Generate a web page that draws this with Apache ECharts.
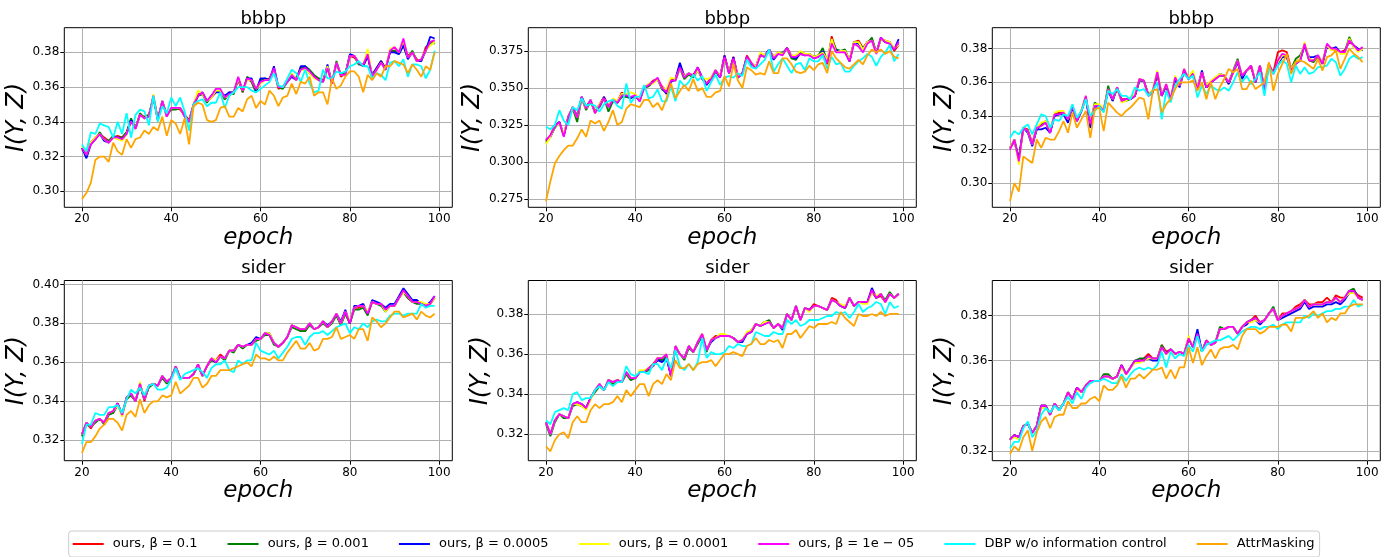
<!DOCTYPE html>
<html>
<head>
<meta charset="utf-8">
<script src="https://cdn.jsdelivr.net/npm/echarts@6/dist/echarts.min.js"></script>
<style>
html,body{margin:0;padding:0;background:#fff;}
#chart{width:1392px;height:557px;}
</style>
</head>
<body>
<div id="chart"></div>
<script>
// ---------------- data ----------------
const epochs = [20,21,22,23,24,25,26,27,28,29,30,31,32,33,34,35,36,37,38,39,
40,41,42,43,44,45,46,47,48,49,50,51,52,53,54,55,56,57,58,59,
60,61,62,63,64,65,66,67,68,69,70,71,72,73,74,75,76,77,78,79,
80,81,82,83,84,85,86,87,88,89,90,91,92,93,94,95,96,97,98,99];

const seriesNames = ['ours, β = 0.1','ours, β = 0.001','ours, β = 0.0005','ours, β = 0.0001','ours, β = 1e − 05','DBP w/o information control','AttrMasking'];
const panelTitles = ['bbbp','bbbp','bbbp','sider','sider','sider'];
const xTicks = [20,40,60,80,100];
const yTicks = [
  [0.30,0.32,0.34,0.36,0.38],
  [0.275,0.300,0.325,0.350,0.375],
  [0.30,0.32,0.34,0.36,0.38],
  [0.32,0.34,0.36,0.38,0.40],
  [0.32,0.34,0.36,0.38],
  [0.32,0.34,0.36,0.38]
];
const yDecimals = [2,3,2,2,2,2];
const yRange = [[0.2908,0.3942],[0.2694,0.3907],[0.2857,0.3925],[0.3095,0.4020],[0.3068,0.3967],[0.3156,0.3956]];

// ---- panel 1 (bbbp) ----
const p1_r = [0.324,0.322,0.328,0.331,0.333,0.331,0.329,0.331,0.332,0.331,
0.334,0.341,0.337,0.344,0.343,0.344,0.354,0.342,0.351,0.344,
0.347,0.348,0.347,0.344,0.341,0.350,0.356,0.356,0.352,0.354,
0.357,0.358,0.353,0.357,0.357,0.364,0.357,0.365,0.363,0.357,
0.364,0.364,0.365,0.370,0.359,0.360,0.364,0.366,0.364,0.371,
0.371,0.368,0.366,0.365,0.364,0.372,0.363,0.374,0.366,0.368,
0.378,0.377,0.374,0.372,0.378,0.367,0.371,0.375,0.371,0.380,
0.381,0.380,0.385,0.378,0.380,0.376,0.375,0.383,0.385,0.386];
const p1_g = [0.325,0.321,0.328,0.330,0.334,0.330,0.329,0.332,0.331,0.331,
0.334,0.342,0.336,0.345,0.342,0.344,0.354,0.341,0.352,0.344,
0.347,0.347,0.348,0.344,0.340,0.349,0.355,0.356,0.351,0.355,
0.358,0.357,0.353,0.356,0.356,0.365,0.357,0.366,0.363,0.357,
0.364,0.365,0.364,0.370,0.360,0.359,0.363,0.367,0.365,0.371,
0.372,0.370,0.367,0.365,0.363,0.371,0.362,0.375,0.367,0.368,
0.378,0.378,0.373,0.373,0.378,0.366,0.370,0.375,0.370,0.381,
0.381,0.379,0.384,0.377,0.381,0.375,0.376,0.381,0.386,0.385];
const p1_b = [0.325,0.319,0.327,0.330,0.333,0.329,0.328,0.331,0.331,0.330,
0.333,0.341,0.336,0.344,0.342,0.343,0.355,0.341,0.352,0.343,
0.348,0.348,0.348,0.343,0.340,0.350,0.355,0.357,0.352,0.355,
0.357,0.357,0.355,0.357,0.357,0.365,0.358,0.365,0.365,0.358,
0.365,0.365,0.364,0.372,0.360,0.360,0.363,0.366,0.364,0.372,
0.372,0.369,0.366,0.364,0.363,0.373,0.362,0.374,0.367,0.367,
0.379,0.378,0.374,0.372,0.378,0.367,0.371,0.375,0.370,0.380,
0.380,0.379,0.384,0.376,0.380,0.375,0.375,0.381,0.389,0.388];
const p1_y = [0.326,0.321,0.328,0.331,0.333,0.330,0.328,0.331,0.330,0.329,
0.333,0.340,0.336,0.344,0.342,0.343,0.356,0.341,0.352,0.343,
0.348,0.348,0.348,0.343,0.340,0.350,0.358,0.356,0.352,0.354,
0.358,0.358,0.354,0.355,0.357,0.365,0.358,0.364,0.364,0.359,
0.362,0.364,0.364,0.370,0.360,0.360,0.363,0.368,0.364,0.370,
0.370,0.368,0.365,0.364,0.363,0.372,0.362,0.374,0.367,0.367,
0.378,0.378,0.374,0.373,0.382,0.366,0.370,0.374,0.370,0.382,
0.383,0.380,0.387,0.377,0.380,0.375,0.376,0.381,0.384,0.386];
const p1_m = [0.325,0.321,0.327,0.330,0.333,0.330,0.328,0.331,0.331,0.330,
0.333,0.340,0.336,0.344,0.342,0.343,0.355,0.341,0.352,0.343,
0.348,0.348,0.348,0.343,0.340,0.350,0.355,0.357,0.352,0.355,
0.359,0.359,0.354,0.356,0.357,0.366,0.358,0.365,0.364,0.359,
0.363,0.364,0.364,0.371,0.360,0.360,0.363,0.367,0.364,0.370,
0.371,0.369,0.366,0.364,0.363,0.371,0.362,0.374,0.367,0.367,
0.378,0.378,0.374,0.373,0.379,0.366,0.370,0.374,0.370,0.381,
0.383,0.380,0.388,0.377,0.380,0.375,0.376,0.381,0.386,0.387];
const p1_c = [0.327,0.323,0.334,0.333,0.339,0.338,0.337,0.331,0.340,0.333,
0.345,0.331,0.344,0.347,0.346,0.338,0.355,0.340,0.349,0.345,
0.354,0.349,0.354,0.346,0.335,0.350,0.352,0.353,0.349,0.351,
0.351,0.357,0.348,0.355,0.357,0.360,0.360,0.360,0.358,0.357,
0.359,0.361,0.363,0.368,0.361,0.360,0.365,0.370,0.368,0.363,
0.370,0.362,0.357,0.358,0.370,0.365,0.365,0.369,0.368,0.369,
0.372,0.373,0.375,0.372,0.372,0.365,0.368,0.367,0.364,0.374,
0.375,0.372,0.376,0.366,0.373,0.373,0.372,0.365,0.370,0.381];
const p1_o = [0.2955,0.299,0.305,0.318,0.320,0.320,0.317,0.328,0.323,0.321,
0.330,0.325,0.330,0.331,0.335,0.333,0.337,0.335,0.343,0.332,
0.341,0.339,0.333,0.342,0.327,0.349,0.351,0.350,0.341,0.340,
0.341,0.348,0.349,0.343,0.343,0.348,0.346,0.353,0.355,0.348,
0.352,0.350,0.358,0.355,0.349,0.354,0.355,0.362,0.356,0.363,
0.362,0.366,0.355,0.357,0.357,0.350,0.365,0.359,0.361,0.366,
0.369,0.369,0.366,0.357,0.367,0.364,0.368,0.366,0.372,0.372,
0.375,0.374,0.373,0.368,0.373,0.370,0.366,0.372,0.370,0.380];

// ---- panel 2 (bbbp) ----
const p2_r = [0.314,0.318,0.325,0.327,0.318,0.331,0.337,0.331,0.344,0.337,
0.341,0.334,0.339,0.344,0.338,0.342,0.341,0.347,0.344,0.344,
0.344,0.342,0.351,0.352,0.355,0.356,0.351,0.348,0.356,0.356,
0.365,0.358,0.359,0.359,0.363,0.357,0.353,0.357,0.362,0.358,
0.372,0.361,0.371,0.358,0.360,0.372,0.367,0.364,0.373,0.372,
0.376,0.371,0.374,0.373,0.377,0.372,0.371,0.374,0.373,0.372,
0.371,0.372,0.374,0.366,0.385,0.375,0.375,0.375,0.369,0.381,
0.382,0.377,0.381,0.383,0.374,0.383,0.382,0.381,0.375,0.379];
const p2_g = [0.313,0.317,0.323,0.327,0.318,0.330,0.336,0.327,0.343,0.335,
0.341,0.334,0.337,0.343,0.334,0.341,0.340,0.344,0.344,0.343,
0.345,0.342,0.350,0.351,0.354,0.356,0.349,0.347,0.355,0.355,
0.363,0.356,0.359,0.357,0.362,0.356,0.353,0.356,0.361,0.357,
0.370,0.360,0.369,0.357,0.360,0.370,0.366,0.364,0.372,0.371,
0.375,0.371,0.373,0.374,0.376,0.370,0.369,0.374,0.373,0.373,
0.371,0.372,0.377,0.368,0.383,0.376,0.375,0.376,0.368,0.381,
0.381,0.377,0.380,0.384,0.374,0.383,0.381,0.381,0.376,0.380];
const p2_b = [0.315,0.317,0.324,0.327,0.318,0.330,0.337,0.331,0.344,0.337,
0.342,0.333,0.338,0.344,0.337,0.342,0.340,0.345,0.345,0.343,
0.345,0.341,0.351,0.352,0.354,0.356,0.350,0.346,0.354,0.356,
0.367,0.358,0.360,0.358,0.364,0.357,0.352,0.356,0.362,0.357,
0.372,0.360,0.371,0.357,0.360,0.371,0.366,0.364,0.373,0.372,
0.376,0.369,0.373,0.373,0.377,0.371,0.370,0.373,0.372,0.373,
0.370,0.371,0.375,0.367,0.381,0.375,0.375,0.374,0.368,0.381,
0.380,0.376,0.381,0.382,0.374,0.384,0.381,0.380,0.376,0.383];
const p2_y = [0.312,0.317,0.324,0.326,0.319,0.330,0.337,0.330,0.343,0.336,
0.342,0.333,0.339,0.343,0.337,0.343,0.341,0.346,0.346,0.347,
0.346,0.342,0.350,0.353,0.353,0.356,0.350,0.349,0.357,0.356,
0.363,0.358,0.360,0.358,0.362,0.357,0.356,0.357,0.362,0.358,
0.370,0.361,0.369,0.358,0.360,0.370,0.367,0.364,0.374,0.372,
0.375,0.371,0.374,0.373,0.376,0.372,0.372,0.375,0.373,0.373,
0.371,0.372,0.374,0.369,0.383,0.374,0.375,0.375,0.369,0.381,
0.381,0.376,0.381,0.382,0.374,0.383,0.382,0.381,0.377,0.379];
const p2_m = [0.315,0.318,0.324,0.327,0.317,0.330,0.337,0.330,0.344,0.336,
0.342,0.333,0.338,0.343,0.337,0.342,0.340,0.345,0.345,0.344,
0.345,0.341,0.350,0.352,0.354,0.357,0.350,0.347,0.355,0.355,
0.364,0.357,0.360,0.358,0.364,0.356,0.353,0.356,0.362,0.357,
0.371,0.360,0.370,0.357,0.360,0.371,0.367,0.363,0.372,0.371,
0.376,0.370,0.373,0.372,0.377,0.371,0.371,0.373,0.372,0.372,
0.370,0.371,0.373,0.367,0.380,0.374,0.374,0.374,0.368,0.380,
0.378,0.374,0.380,0.382,0.373,0.384,0.381,0.380,0.376,0.381];
const p2_c = [0.324,0.322,0.325,0.335,0.328,0.325,0.337,0.335,0.343,0.338,
0.339,0.338,0.334,0.339,0.341,0.342,0.338,0.336,0.353,0.340,
0.344,0.344,0.352,0.343,0.344,0.349,0.341,0.341,0.351,0.341,
0.355,0.351,0.354,0.359,0.355,0.358,0.348,0.354,0.359,0.352,
0.357,0.358,0.357,0.360,0.358,0.369,0.364,0.363,0.366,0.369,
0.376,0.361,0.366,0.370,0.365,0.360,0.366,0.367,0.362,0.370,
0.368,0.368,0.372,0.363,0.371,0.366,0.367,0.361,0.361,0.365,
0.368,0.370,0.373,0.371,0.365,0.371,0.374,0.379,0.368,0.373];
const p2_o = [0.2735,0.287,0.299,0.304,0.308,0.311,0.311,0.316,0.322,0.317,
0.328,0.326,0.328,0.321,0.327,0.335,0.325,0.327,0.336,0.339,
0.338,0.337,0.342,0.342,0.337,0.340,0.335,0.343,0.353,0.343,
0.348,0.352,0.348,0.356,0.348,0.350,0.344,0.344,0.347,0.348,
0.358,0.351,0.366,0.355,0.350,0.364,0.362,0.359,0.360,0.359,
0.368,0.360,0.360,0.370,0.370,0.366,0.361,0.360,0.361,0.365,
0.362,0.366,0.367,0.360,0.375,0.370,0.367,0.364,0.363,0.366,
0.369,0.366,0.372,0.376,0.374,0.376,0.373,0.375,0.371,0.370];

// ---- panel 3 (bbbp) ----
const p3_r = [0.321,0.325,0.314,0.333,0.332,0.324,0.333,0.335,0.337,0.331,
0.341,0.342,0.342,0.339,0.345,0.338,0.343,0.351,0.336,0.346,
0.345,0.344,0.356,0.350,0.356,0.350,0.350,0.351,0.352,0.362,
0.361,0.353,0.355,0.365,0.353,0.358,0.350,0.362,0.358,0.367,
0.363,0.365,0.357,0.366,0.357,0.360,0.362,0.364,0.364,0.359,
0.366,0.372,0.364,0.367,0.369,0.361,0.369,0.356,0.370,0.366,
0.378,0.379,0.378,0.368,0.372,0.374,0.382,0.374,0.373,0.375,
0.372,0.382,0.380,0.379,0.378,0.379,0.384,0.382,0.379,0.380];
const p3_g = [0.321,0.326,0.315,0.333,0.331,0.323,0.332,0.335,0.336,0.330,
0.341,0.341,0.342,0.337,0.345,0.337,0.343,0.351,0.336,0.348,
0.346,0.343,0.358,0.349,0.357,0.349,0.349,0.350,0.352,0.361,
0.361,0.352,0.355,0.365,0.352,0.358,0.350,0.362,0.358,0.367,
0.362,0.365,0.357,0.366,0.357,0.360,0.363,0.364,0.364,0.360,
0.367,0.374,0.363,0.367,0.370,0.360,0.370,0.356,0.370,0.366,
0.372,0.376,0.375,0.368,0.374,0.376,0.382,0.373,0.372,0.376,
0.371,0.382,0.380,0.380,0.378,0.378,0.387,0.381,0.379,0.380];
const p3_b = [0.321,0.325,0.314,0.333,0.330,0.322,0.332,0.332,0.333,0.330,
0.340,0.341,0.341,0.336,0.345,0.337,0.343,0.351,0.333,0.346,
0.345,0.343,0.355,0.349,0.357,0.349,0.350,0.350,0.352,0.361,
0.361,0.352,0.354,0.366,0.352,0.358,0.349,0.362,0.357,0.367,
0.362,0.365,0.356,0.367,0.357,0.360,0.362,0.365,0.364,0.359,
0.366,0.372,0.362,0.367,0.370,0.360,0.370,0.355,0.371,0.365,
0.371,0.375,0.375,0.367,0.371,0.373,0.382,0.375,0.375,0.376,
0.371,0.381,0.380,0.381,0.378,0.378,0.385,0.382,0.380,0.379];
const p3_y = [0.321,0.326,0.311,0.333,0.331,0.323,0.333,0.336,0.337,0.331,
0.342,0.343,0.343,0.338,0.346,0.338,0.344,0.352,0.336,0.347,
0.347,0.344,0.356,0.350,0.357,0.348,0.349,0.351,0.353,0.362,
0.361,0.352,0.356,0.367,0.353,0.359,0.350,0.364,0.358,0.368,
0.363,0.367,0.357,0.366,0.358,0.361,0.363,0.365,0.364,0.360,
0.366,0.373,0.364,0.367,0.370,0.361,0.370,0.356,0.371,0.365,
0.372,0.376,0.376,0.368,0.372,0.374,0.384,0.374,0.373,0.376,
0.372,0.382,0.379,0.380,0.377,0.377,0.386,0.381,0.378,0.380];
const p3_m = [0.320,0.326,0.313,0.333,0.331,0.323,0.333,0.334,0.336,0.330,
0.341,0.341,0.342,0.338,0.346,0.337,0.343,0.352,0.335,0.346,
0.346,0.343,0.356,0.350,0.357,0.349,0.350,0.350,0.352,0.362,
0.361,0.352,0.355,0.366,0.352,0.359,0.350,0.363,0.358,0.368,
0.362,0.365,0.356,0.366,0.357,0.360,0.362,0.364,0.364,0.360,
0.366,0.373,0.364,0.367,0.370,0.360,0.370,0.355,0.371,0.365,
0.373,0.377,0.376,0.367,0.371,0.373,0.383,0.373,0.373,0.376,
0.371,0.383,0.380,0.380,0.378,0.378,0.385,0.382,0.379,0.381];
const p3_c = [0.327,0.331,0.329,0.333,0.335,0.329,0.335,0.341,0.340,0.333,
0.338,0.337,0.341,0.340,0.347,0.339,0.343,0.350,0.340,0.343,
0.346,0.342,0.355,0.353,0.356,0.352,0.352,0.350,0.357,0.355,
0.356,0.352,0.355,0.360,0.338,0.355,0.348,0.358,0.362,0.365,
0.362,0.364,0.351,0.358,0.353,0.358,0.356,0.355,0.357,0.355,
0.360,0.366,0.360,0.364,0.359,0.362,0.366,0.352,0.369,0.365,
0.370,0.373,0.371,0.360,0.370,0.365,0.369,0.365,0.366,0.369,
0.369,0.370,0.374,0.372,0.364,0.368,0.374,0.376,0.374,0.375];
const p3_o = [0.2895,0.300,0.295,0.316,0.314,0.312,0.326,0.321,0.327,0.326,
0.326,0.331,0.337,0.330,0.342,0.333,0.338,0.343,0.327,0.344,
0.345,0.331,0.348,0.345,0.342,0.340,0.343,0.345,0.348,0.351,
0.350,0.338,0.355,0.356,0.342,0.347,0.350,0.356,0.360,0.360,
0.360,0.361,0.355,0.360,0.350,0.360,0.350,0.357,0.362,0.368,
0.366,0.368,0.356,0.356,0.361,0.356,0.358,0.360,0.372,0.355,
0.365,0.371,0.377,0.365,0.372,0.373,0.372,0.370,0.368,0.374,
0.367,0.375,0.376,0.379,0.368,0.374,0.380,0.377,0.375,0.372];

// ---- panel 4 (sider) ----
const p4_r = [0.323,0.329,0.326,0.330,0.331,0.329,0.334,0.334,0.339,0.333,
0.342,0.343,0.340,0.349,0.340,0.348,0.349,0.348,0.353,0.350,
0.352,0.358,0.352,0.352,0.352,0.354,0.359,0.353,0.358,0.362,
0.361,0.364,0.362,0.366,0.366,0.369,0.368,0.369,0.369,0.372,
0.372,0.375,0.374,0.370,0.368,0.370,0.373,0.379,0.378,0.376,
0.376,0.380,0.377,0.378,0.381,0.378,0.381,0.384,0.380,0.385,
0.380,0.388,0.388,0.389,0.385,0.391,0.390,0.390,0.387,0.389,
0.389,0.393,0.396,0.393,0.391,0.391,0.390,0.389,0.390,0.393];
const p4_g = [0.322,0.328,0.327,0.329,0.331,0.328,0.333,0.334,0.338,0.333,
0.341,0.343,0.340,0.348,0.341,0.347,0.349,0.348,0.352,0.349,
0.352,0.357,0.352,0.352,0.352,0.354,0.358,0.353,0.358,0.361,
0.360,0.363,0.361,0.366,0.365,0.369,0.367,0.369,0.369,0.371,
0.372,0.374,0.374,0.369,0.368,0.370,0.373,0.378,0.377,0.376,
0.376,0.379,0.377,0.378,0.380,0.378,0.380,0.384,0.379,0.385,
0.380,0.387,0.387,0.388,0.384,0.391,0.390,0.389,0.386,0.389,
0.389,0.393,0.396,0.393,0.391,0.390,0.390,0.389,0.390,0.393];
const p4_b = [0.323,0.329,0.327,0.330,0.331,0.329,0.334,0.335,0.339,0.333,
0.342,0.344,0.340,0.349,0.341,0.348,0.349,0.348,0.353,0.350,
0.352,0.358,0.352,0.352,0.352,0.354,0.359,0.353,0.358,0.362,
0.360,0.363,0.362,0.366,0.366,0.369,0.368,0.369,0.370,0.373,
0.372,0.375,0.375,0.370,0.368,0.370,0.373,0.379,0.378,0.377,
0.377,0.380,0.377,0.378,0.381,0.379,0.381,0.385,0.381,0.387,
0.380,0.389,0.389,0.390,0.385,0.392,0.391,0.390,0.388,0.390,
0.390,0.394,0.398,0.395,0.392,0.392,0.390,0.389,0.391,0.394];
const p4_y = [0.323,0.329,0.327,0.330,0.331,0.329,0.334,0.335,0.338,0.332,
0.342,0.344,0.340,0.350,0.341,0.348,0.349,0.348,0.353,0.350,
0.352,0.358,0.352,0.352,0.352,0.354,0.359,0.353,0.358,0.362,
0.361,0.363,0.362,0.366,0.366,0.369,0.368,0.369,0.369,0.372,
0.372,0.375,0.375,0.370,0.368,0.370,0.373,0.379,0.378,0.377,
0.377,0.380,0.377,0.378,0.381,0.378,0.381,0.385,0.380,0.386,
0.381,0.388,0.389,0.389,0.386,0.391,0.390,0.390,0.386,0.389,
0.389,0.393,0.396,0.394,0.391,0.391,0.391,0.390,0.390,0.393];
const p4_m = [0.323,0.329,0.327,0.330,0.331,0.329,0.334,0.335,0.339,0.333,
0.342,0.344,0.340,0.349,0.341,0.348,0.349,0.348,0.353,0.350,
0.352,0.358,0.352,0.352,0.352,0.354,0.359,0.353,0.358,0.362,
0.360,0.363,0.362,0.366,0.366,0.369,0.368,0.369,0.369,0.372,
0.372,0.375,0.374,0.370,0.368,0.370,0.373,0.379,0.378,0.377,
0.377,0.380,0.377,0.378,0.381,0.378,0.381,0.385,0.380,0.386,
0.380,0.388,0.389,0.389,0.385,0.391,0.390,0.390,0.387,0.389,
0.389,0.393,0.397,0.394,0.391,0.391,0.390,0.389,0.390,0.394];
const p4_c = [0.318,0.328,0.328,0.334,0.333,0.333,0.337,0.337,0.338,0.334,
0.341,0.346,0.344,0.347,0.343,0.348,0.349,0.346,0.346,0.347,
0.351,0.357,0.351,0.354,0.355,0.356,0.357,0.355,0.352,0.357,
0.359,0.359,0.361,0.356,0.355,0.361,0.359,0.361,0.361,0.370,
0.366,0.365,0.364,0.366,0.362,0.365,0.368,0.372,0.373,0.373,
0.369,0.373,0.375,0.375,0.376,0.374,0.376,0.378,0.379,0.380,
0.375,0.378,0.377,0.380,0.378,0.381,0.382,0.381,0.381,0.384,
0.385,0.385,0.384,0.385,0.385,0.385,0.390,0.388,0.389,0.389];
const p4_o = [0.3135,0.319,0.319,0.322,0.326,0.328,0.331,0.331,0.329,0.325,
0.333,0.335,0.332,0.341,0.334,0.338,0.340,0.340,0.343,0.342,
0.343,0.350,0.344,0.346,0.348,0.352,0.352,0.347,0.349,0.353,
0.353,0.356,0.356,0.356,0.357,0.358,0.359,0.360,0.358,0.364,
0.362,0.362,0.361,0.363,0.361,0.361,0.365,0.368,0.371,0.367,
0.367,0.370,0.366,0.367,0.372,0.372,0.373,0.378,0.372,0.373,
0.374,0.372,0.377,0.377,0.371,0.383,0.381,0.378,0.380,0.383,
0.386,0.386,0.383,0.384,0.385,0.382,0.386,0.384,0.383,0.385];

// ---- panel 5 (sider) ----
const p5_r = [0.326,0.320,0.327,0.330,0.329,0.328,0.335,0.335,0.335,0.333,
0.338,0.342,0.344,0.342,0.347,0.346,0.347,0.346,0.350,0.348,
0.348,0.351,0.351,0.353,0.355,0.358,0.357,0.359,0.349,0.363,
0.360,0.358,0.364,0.361,0.366,0.370,0.362,0.367,0.369,0.369,
0.369,0.369,0.368,0.366,0.367,0.370,0.371,0.375,0.374,0.376,
0.376,0.373,0.375,0.373,0.380,0.377,0.384,0.377,0.383,0.382,
0.385,0.384,0.383,0.382,0.388,0.387,0.384,0.383,0.388,0.384,
0.386,0.386,0.386,0.391,0.388,0.389,0.386,0.390,0.388,0.390];
const p5_g = [0.325,0.319,0.326,0.330,0.328,0.328,0.334,0.335,0.334,0.333,
0.338,0.341,0.344,0.342,0.347,0.345,0.347,0.346,0.350,0.347,
0.348,0.351,0.351,0.352,0.354,0.357,0.357,0.359,0.349,0.363,
0.360,0.357,0.363,0.361,0.365,0.369,0.361,0.367,0.368,0.369,
0.369,0.369,0.368,0.366,0.367,0.370,0.372,0.375,0.374,0.376,
0.377,0.373,0.375,0.373,0.380,0.377,0.384,0.377,0.383,0.382,
0.384,0.384,0.383,0.382,0.387,0.386,0.384,0.383,0.388,0.384,
0.386,0.386,0.386,0.392,0.388,0.390,0.387,0.391,0.388,0.390];
const p5_b = [0.326,0.320,0.327,0.330,0.329,0.328,0.335,0.336,0.335,0.333,
0.338,0.342,0.345,0.342,0.347,0.346,0.347,0.346,0.351,0.348,
0.348,0.351,0.351,0.353,0.354,0.357,0.356,0.358,0.349,0.364,
0.360,0.358,0.364,0.361,0.366,0.369,0.362,0.366,0.368,0.369,
0.369,0.369,0.368,0.366,0.366,0.370,0.371,0.375,0.374,0.375,
0.376,0.373,0.375,0.372,0.380,0.377,0.384,0.377,0.383,0.382,
0.384,0.384,0.383,0.382,0.387,0.386,0.384,0.383,0.388,0.384,
0.386,0.386,0.386,0.393,0.388,0.390,0.386,0.390,0.388,0.390];
const p5_y = [0.326,0.320,0.327,0.330,0.329,0.328,0.335,0.335,0.334,0.332,
0.337,0.342,0.345,0.342,0.347,0.346,0.347,0.346,0.351,0.348,
0.348,0.352,0.352,0.353,0.354,0.358,0.358,0.360,0.350,0.364,
0.360,0.358,0.364,0.361,0.366,0.370,0.362,0.367,0.368,0.370,
0.370,0.369,0.368,0.366,0.367,0.371,0.372,0.375,0.374,0.376,
0.376,0.373,0.375,0.373,0.380,0.377,0.384,0.377,0.383,0.381,
0.384,0.384,0.383,0.382,0.387,0.386,0.385,0.384,0.388,0.384,
0.386,0.385,0.385,0.391,0.389,0.390,0.386,0.390,0.388,0.390];
const p5_m = [0.326,0.320,0.327,0.330,0.329,0.328,0.335,0.336,0.335,0.333,
0.338,0.342,0.345,0.342,0.347,0.346,0.347,0.346,0.351,0.348,
0.348,0.351,0.351,0.353,0.354,0.358,0.358,0.360,0.349,0.364,
0.360,0.358,0.364,0.361,0.366,0.370,0.362,0.367,0.368,0.369,
0.369,0.369,0.368,0.366,0.367,0.370,0.371,0.375,0.374,0.375,
0.376,0.373,0.375,0.373,0.380,0.377,0.384,0.377,0.383,0.382,
0.384,0.384,0.383,0.382,0.387,0.386,0.384,0.383,0.388,0.384,
0.386,0.386,0.386,0.392,0.388,0.390,0.386,0.390,0.388,0.390];
const p5_c = [0.327,0.325,0.331,0.332,0.333,0.332,0.340,0.341,0.337,0.338,
0.338,0.342,0.344,0.342,0.346,0.344,0.346,0.346,0.354,0.350,
0.349,0.351,0.351,0.350,0.355,0.355,0.352,0.358,0.353,0.362,
0.354,0.352,0.355,0.352,0.356,0.368,0.358,0.361,0.360,0.360,
0.361,0.364,0.363,0.365,0.364,0.364,0.365,0.371,0.370,0.369,
0.369,0.371,0.370,0.370,0.377,0.375,0.377,0.374,0.375,0.377,
0.377,0.377,0.378,0.379,0.379,0.381,0.380,0.381,0.378,0.381,
0.385,0.381,0.383,0.384,0.386,0.385,0.380,0.386,0.383,0.384];
const p5_o = [0.314,0.3115,0.317,0.320,0.321,0.318,0.326,0.329,0.326,0.326,
0.332,0.335,0.333,0.335,0.335,0.336,0.339,0.336,0.342,0.339,
0.342,0.345,0.345,0.339,0.345,0.347,0.345,0.350,0.347,0.357,
0.353,0.353,0.355,0.352,0.355,0.356,0.356,0.357,0.354,0.357,
0.360,0.360,0.361,0.360,0.359,0.364,0.365,0.368,0.365,0.365,
0.367,0.366,0.367,0.363,0.370,0.370,0.372,0.368,0.371,0.374,
0.373,0.375,0.375,0.375,0.376,0.375,0.381,0.378,0.376,0.374,
0.380,0.379,0.379,0.380,0.379,0.381,0.379,0.380,0.380,0.380];

// ---- panel 6 (sider) ----
const p6_r = [0.325,0.327,0.326,0.331,0.332,0.328,0.331,0.340,0.340,0.336,
0.341,0.338,0.341,0.346,0.343,0.348,0.346,0.349,0.351,0.351,
0.351,0.353,0.353,0.352,0.353,0.358,0.354,0.357,0.360,0.360,
0.361,0.363,0.361,0.361,0.367,0.364,0.365,0.363,0.364,0.363,
0.370,0.366,0.372,0.364,0.369,0.367,0.368,0.374,0.374,0.375,
0.375,0.372,0.375,0.377,0.378,0.380,0.377,0.378,0.381,0.383,
0.378,0.381,0.381,0.382,0.384,0.385,0.387,0.385,0.385,0.386,
0.386,0.388,0.386,0.389,0.388,0.388,0.391,0.391,0.389,0.388];
const p6_g = [0.325,0.327,0.326,0.331,0.332,0.328,0.331,0.340,0.340,0.336,
0.341,0.338,0.341,0.346,0.343,0.348,0.346,0.349,0.351,0.351,
0.351,0.354,0.354,0.352,0.353,0.358,0.354,0.357,0.360,0.361,
0.361,0.362,0.361,0.361,0.367,0.363,0.365,0.363,0.364,0.363,
0.370,0.366,0.372,0.364,0.369,0.367,0.368,0.375,0.374,0.375,
0.375,0.372,0.375,0.377,0.378,0.379,0.377,0.378,0.381,0.384,
0.378,0.380,0.381,0.382,0.383,0.384,0.387,0.384,0.385,0.385,
0.385,0.386,0.386,0.388,0.386,0.388,0.391,0.392,0.388,0.387];
const p6_b = [0.325,0.327,0.326,0.331,0.332,0.328,0.331,0.340,0.340,0.336,
0.341,0.338,0.341,0.346,0.343,0.348,0.346,0.349,0.351,0.351,
0.351,0.353,0.353,0.352,0.353,0.358,0.354,0.357,0.360,0.360,
0.360,0.361,0.360,0.360,0.366,0.363,0.365,0.363,0.364,0.363,
0.370,0.366,0.374,0.364,0.369,0.367,0.368,0.374,0.374,0.375,
0.375,0.372,0.375,0.376,0.378,0.378,0.376,0.378,0.381,0.383,
0.378,0.379,0.380,0.381,0.382,0.383,0.386,0.383,0.384,0.384,
0.384,0.385,0.385,0.386,0.385,0.387,0.390,0.391,0.388,0.387];
const p6_y = [0.325,0.326,0.325,0.331,0.332,0.328,0.331,0.339,0.339,0.336,
0.341,0.338,0.341,0.346,0.343,0.347,0.346,0.349,0.351,0.351,
0.351,0.353,0.353,0.352,0.353,0.357,0.354,0.357,0.359,0.359,
0.360,0.361,0.361,0.361,0.366,0.363,0.364,0.363,0.364,0.363,
0.371,0.366,0.371,0.364,0.369,0.367,0.368,0.374,0.374,0.375,
0.375,0.372,0.375,0.377,0.377,0.378,0.377,0.378,0.381,0.383,
0.378,0.380,0.381,0.382,0.383,0.384,0.387,0.384,0.385,0.385,
0.385,0.386,0.386,0.388,0.386,0.388,0.390,0.390,0.388,0.387];
const p6_m = [0.325,0.327,0.326,0.331,0.332,0.328,0.331,0.340,0.340,0.336,
0.341,0.338,0.341,0.346,0.343,0.348,0.346,0.349,0.351,0.351,
0.351,0.353,0.353,0.352,0.353,0.358,0.354,0.357,0.360,0.360,
0.360,0.362,0.361,0.361,0.366,0.363,0.365,0.363,0.364,0.363,
0.370,0.366,0.372,0.364,0.369,0.367,0.368,0.374,0.374,0.375,
0.375,0.372,0.375,0.377,0.378,0.379,0.377,0.378,0.381,0.383,
0.378,0.380,0.381,0.382,0.383,0.384,0.387,0.384,0.385,0.385,
0.385,0.386,0.386,0.388,0.386,0.388,0.391,0.391,0.388,0.387];
const p6_c = [0.321,0.324,0.324,0.330,0.333,0.326,0.329,0.336,0.339,0.337,
0.340,0.338,0.341,0.344,0.341,0.346,0.343,0.348,0.350,0.351,
0.351,0.352,0.351,0.350,0.350,0.354,0.351,0.354,0.356,0.357,
0.356,0.357,0.356,0.358,0.364,0.357,0.364,0.361,0.363,0.362,
0.367,0.364,0.371,0.364,0.367,0.368,0.369,0.369,0.370,0.371,
0.369,0.371,0.373,0.374,0.375,0.375,0.374,0.375,0.375,0.376,
0.374,0.376,0.377,0.377,0.377,0.377,0.380,0.379,0.381,0.380,
0.381,0.382,0.382,0.383,0.383,0.384,0.384,0.387,0.384,0.385];
const p6_o = [0.3185,0.322,0.320,0.326,0.329,0.320,0.328,0.333,0.335,0.330,
0.335,0.336,0.336,0.342,0.339,0.339,0.341,0.341,0.343,0.344,
0.342,0.349,0.347,0.347,0.349,0.353,0.348,0.352,0.352,0.354,
0.352,0.354,0.356,0.356,0.357,0.352,0.356,0.352,0.357,0.357,
0.366,0.359,0.366,0.358,0.362,0.365,0.361,0.365,0.366,0.366,
0.367,0.365,0.371,0.374,0.374,0.374,0.372,0.373,0.375,0.375,
0.375,0.376,0.376,0.373,0.379,0.379,0.379,0.380,0.382,0.379,
0.381,0.377,0.379,0.378,0.381,0.381,0.384,0.385,0.385,0.385];

const panelSeries = [
  [p1_r,p1_g,p1_b,p1_y,p1_m,p1_c,p1_o],
  [p2_r,p2_g,p2_b,p2_y,p2_m,p2_c,p2_o],
  [p3_r,p3_g,p3_b,p3_y,p3_m,p3_c,p3_o],
  [p4_r,p4_g,p4_b,p4_y,p4_m,p4_c,p4_o],
  [p5_r,p5_g,p5_b,p5_y,p5_m,p5_c,p5_o],
  [p6_r,p6_g,p6_b,p6_y,p6_m,p6_c,p6_o]
];

// ---------------- styling / layout ----------------
const colors = ['#ff0000','#008000','#0000ff','#ffff00','#ff00ff','#00ffff','#ffa500'];
const colLeft = [64.3, 528.3, 992.3];
const plotW = 388;
const rowTop = [27.7, 280.5];
const rowH = [179.6, 180.2];
const titleTop = [5, 254];
const FONT = 'DejaVu Sans';

const grids = [], xAxes = [], yAxes = [], titles = [], series = [];
for (let i = 0; i < 6; i++) {
  const col = i % 3, row = Math.floor(i / 3);
  grids.push({
    left: colLeft[col], top: rowTop[row], width: plotW, height: rowH[row],
    show: true, borderColor: '#000', borderWidth: 1, backgroundColor: 'transparent'
  });
  titles.push({
    text: panelTitles[i], left: colLeft[col] + plotW / 2, top: titleTop[row], textAlign: 'center',
    textStyle: { fontFamily: FONT, fontSize: 18, fontWeight: 'normal', color: '#000' }
  });
  xAxes.push({
    type: 'value', gridIndex: i, min: 16.05, max: 102.95,
    axisLine: { show: false },
    axisTick: { show: true, customValues: xTicks, length: 4, lineStyle: { color: '#000' } },
    axisLabel: { customValues: xTicks, fontFamily: FONT, fontSize: 12, color: '#000', margin: 6 },
    splitLine: { show: true, lineStyle: { color: '#b0b0b0', width: 1 } },
    name: 'epoch', nameLocation: 'middle', nameGap: 16,
    nameTextStyle: { fontFamily: FONT, fontStyle: 'italic', fontSize: 23, color: '#000' }
  });
  const dec = yDecimals[i];
  yAxes.push({
    type: 'value', gridIndex: i, min: yRange[i][0], max: yRange[i][1],
    axisLine: { show: false },
    axisTick: { show: true, customValues: yTicks[i], length: 4, lineStyle: { color: '#000' } },
    axisLabel: { customValues: yTicks[i], fontFamily: FONT, fontSize: 12, color: '#000', margin: 5,
      formatter: v => Number(v).toFixed(dec) },
    splitLine: { show: true, lineStyle: { color: '#b0b0b0', width: 1 } },
    name: 'I(Y, Z)', nameLocation: 'middle', nameGap: 28, nameRotate: 90,
    nameTextStyle: { fontFamily: FONT, fontStyle: 'italic', fontSize: 24, color: '#000' }
  });
  panelSeries[i].forEach((arr, j) => {
    series.push({
      name: seriesNames[j], type: 'line', xAxisIndex: i, yAxisIndex: i,
      data: epochs.map((e, k) => [e, arr[k]]),
      symbol: 'none', showSymbol: false,
      lineStyle: { width: 1.8, color: colors[j] },
      itemStyle: { color: colors[j] },
      emphasis: { disabled: true }
    });
  });
}

const chart = echarts.init(document.getElementById('chart'), null, { renderer: 'canvas' });
chart.setOption({
  animation: false,
  backgroundColor: '#fff',
  title: titles,
  grid: grids,
  xAxis: xAxes,
  yAxis: yAxes,
  legend: {
    data: seriesNames.map(n => ({ name: n, icon: 'rect' })),
    left: 68.7, top: 531,
    orient: 'horizontal',
    itemWidth: 31, itemHeight: 2, itemGap: 30,
    padding: [6, 5, 6, 4],
    borderColor: '#cccccc', borderWidth: 1, borderRadius: 3,
    backgroundColor: '#fff',
    selectedMode: false,
    formatter: name => ' ' + name,
    textStyle: { fontFamily: FONT, fontSize: 13, color: '#000', lineHeight: 14 }
  },
  series: series
});
</script>
</body>
</html>
